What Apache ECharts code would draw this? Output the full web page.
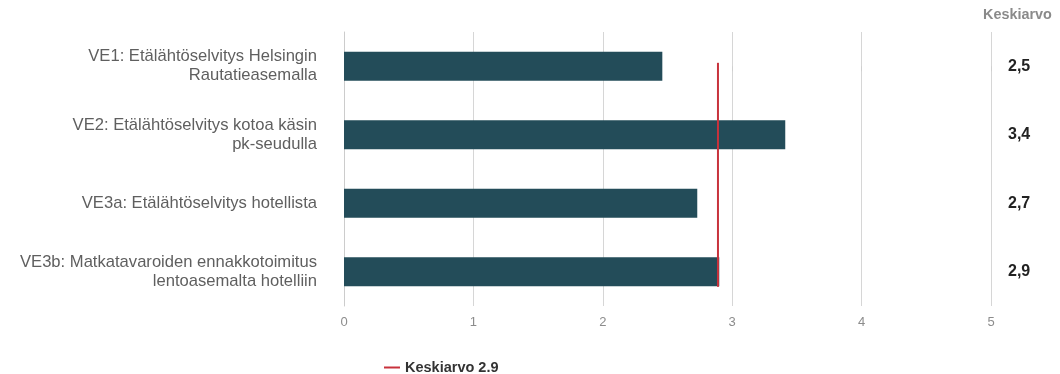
<!DOCTYPE html>
<html>
<head>
<meta charset="utf-8">
<script src="https://cdn.jsdelivr.net/npm/echarts@6/dist/echarts.min.js"></script>
<style>
  html, body { margin: 0; padding: 0; background: #ffffff; }
  #chart { width: 1060px; height: 374px; }
</style>
</head>
<body>
<div id="chart"></div>
<script>
// Service options and their average ratings (scale 0–5)
const categories = [
  'VE1: Etälähtöselvitys Helsingin\nRautatieasemalla',
  'VE2: Etälähtöselvitys kotoa käsin\npk-seudulla',
  'VE3a: Etälähtöselvitys hotellista',
  'VE3b: Matkatavaroiden ennakkotoimitus\nlentoasemalta hotelliin'
];
const averages = [2.46, 3.41, 2.73, 2.90];
const overallMean = 2.89;
const xTicks = [0, 1, 2, 3, 4, 5];
const columnTitle = 'Keskiarvo';

const fmtComma = v => v.toFixed(1).replace('.', ',');
const FONT = '"Liberation Sans", Arial, sans-serif';

const chart = echarts.init(document.getElementById('chart'), null, { renderer: 'canvas' });

chart.setOption({
  animation: false,
  backgroundColor: '#ffffff',
  grid: { left: 344, right: 69, top: 32, bottom: 68, containLabel: false },
  xAxis: {
    type: 'value',
    min: xTicks[0],
    max: xTicks[xTicks.length - 1],
    interval: 1,
    axisLine: { show: false },
    axisTick: { show: true, length: 5, lineStyle: { color: '#cfcfcf' } },
    splitLine: { show: true, lineStyle: { color: '#d6d6d6', width: 1 } },
    axisLabel: { color: '#8c8c8c', fontFamily: FONT, fontSize: 13, margin: 10 }
  },
  yAxis: [
    {
      type: 'category',
      data: categories,
      inverse: true,
      axisLine: { show: true, lineStyle: { color: '#cccccc' } },
      axisTick: { show: false },
      axisLabel: {
        color: '#5f5f5f',
        fontFamily: FONT,
        fontSize: 16.6,
        lineHeight: 19,
        margin: 27,
        align: 'right'
      }
    },
    {
      // hidden numeric track used to place the mean line across the rows
      type: 'value',
      min: -0.5,
      max: categories.length - 0.5,
      inverse: true,
      show: false
    },
    {
      type: 'category',
      data: categories,
      inverse: true,
      position: 'right',
      axisLine: { show: false },
      axisTick: { show: false },
      axisLabel: {
        color: '#222222',
        fontFamily: FONT,
        fontWeight: 'bold',
        fontSize: 16,
        margin: 17,
        align: 'left',
        formatter: (val, idx) => fmtComma(averages[idx])
      }
    }
  ],
  legend: {
    left: 379,
    top: 355,
    icon: 'rect',
    itemWidth: 16,
    itemHeight: 2,
    data: ['Keskiarvo ' + overallMean.toFixed(1)],
    textStyle: { color: '#333333', fontFamily: FONT, fontWeight: 'bold', fontSize: 14.5 }
  },
  graphic: [
    {
      type: 'text',
      left: 983,
      top: 8,
      style: {
        text: columnTitle,
        fill: '#8a8a8a',
        font: 'bold 14.4px ' + FONT
      }
    }
  ],
  series: [
    {
      name: 'Keskiarvot',
      type: 'bar',
      data: averages,
      barWidth: 29,
      itemStyle: { color: '#234c59' },
      z: 2
    },
    {
      name: 'Keskiarvo ' + overallMean.toFixed(1),
      type: 'line',
      yAxisIndex: 1,
      data: [[overallMean, -0.05], [overallMean, 3.22]],
      symbol: 'none',
      lineStyle: { color: '#c8323c', width: 2 },
      itemStyle: { color: '#c8323c' },
      z: 5
    }
  ]
});
</script>
</body>
</html>
